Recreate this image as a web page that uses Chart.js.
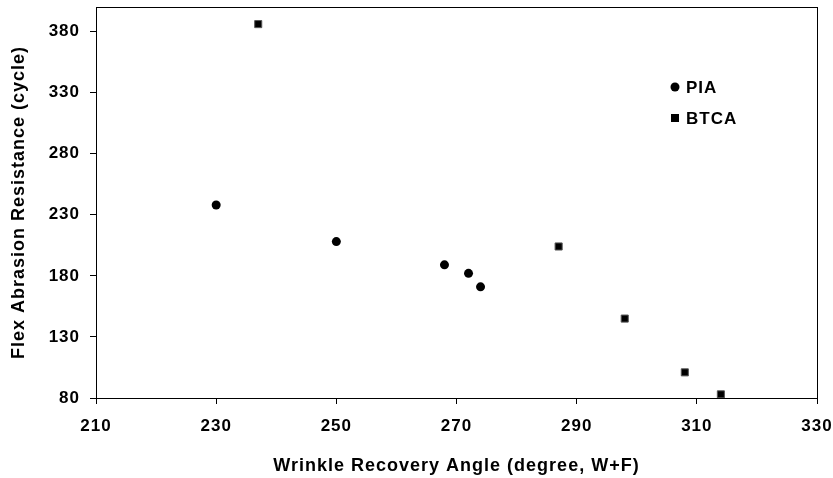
<!DOCTYPE html>
<html>
<head>
<meta charset="utf-8">
<script src="https://cdn.jsdelivr.net/npm/chart.js@4"></script>
<style>
  html, body { margin: 0; padding: 0; background: #fff; }
  #wrap { width: 833px; height: 478px; }
</style>
</head>
<body>
<div id="wrap"><canvas id="chart" width="833" height="478"></canvas></div>
<script>
// values
const piaX = [230, 250, 268, 272, 274];
const piaY = [238, 208, 189, 182, 171];
const btcaX = [237, 287, 298, 308, 314];
const btcaY = [386, 204, 145, 101, 83];
const yTicks = [80, 130, 180, 230, 280, 330, 380];
const xTicks = [210, 230, 250, 270, 290, 310, 330];

const toPoints = (xs, ys) => xs.map((x, i) => ({ x: x, y: ys[i] }));
const FONT = '"Liberation Sans", Arial, sans-serif';

// the reference text is set a bit wide
const spacingPlugin = {
  id: 'spacing',
  beforeInit(chart) { chart.ctx.letterSpacing = '1px'; },
  beforeDraw(chart) { chart.ctx.letterSpacing = '1px'; }
};

// box round the plot area + legend inside it
const framePlugin = {
  id: 'frame',
  afterDraw(chart) {
    const { ctx, chartArea: a } = chart;
    ctx.save();
    ctx.strokeStyle = '#000';
    ctx.lineWidth = 1;
    ctx.strokeRect(a.left + 0.5, a.top + 0.5, a.right - a.left, a.bottom - a.top);

    const lx = a.left + 579, ly = a.top + 80;
    ctx.fillStyle = '#000';
    ctx.beginPath();
    ctx.arc(lx, ly, 4.5, 0, Math.PI * 2);
    ctx.fill();
    ctx.fillRect(lx - 4, ly + 27, 8, 8);
    ctx.font = 'bold 17px ' + FONT;
    ctx.textBaseline = 'middle';
    ctx.textAlign = 'left';
    ctx.fillText('PIA', lx + 11, ly + 1);
    ctx.fillText('BTCA', lx + 11, ly + 32);
    ctx.restore();
  }
};

const tickFont = { family: FONT, size: 17, weight: 'bold' };
const titleFont = { family: FONT, size: 18, weight: 'bold' };

new Chart(document.getElementById('chart').getContext('2d'), {
  type: 'scatter',
  data: {
    datasets: [
      {
        label: 'PIA',
        data: toPoints(piaX, piaY),
        pointStyle: 'circle',
        pointRadius: 4.5,
        backgroundColor: '#000',
        borderColor: '#000',
        borderWidth: 0
      },
      {
        label: 'BTCA',
        data: toPoints(btcaX, btcaY),
        pointStyle: 'rect',
        pointRadius: 5,
        backgroundColor: '#000',
        borderColor: '#555',
        borderWidth: 1
      }
    ]
  },
  options: {
    responsive: false,
    animation: false,
    layout: { padding: { top: 7, right: 16, left: 0, bottom: 0 } },
    plugins: {
      legend: { display: false },
      tooltip: { enabled: false }
    },
    scales: {
      x: {
        type: 'linear',
        min: 210,
        max: 330,
        afterBuildTicks: s => { s.ticks = xTicks.map(v => ({ value: v })); },
        afterFit: s => { s.height = 80; s.paddingLeft = 0; s.paddingRight = 0; },
        grid: { display: true, drawOnChartArea: false, drawTicks: true, tickLength: 6, color: '#000' },
        border: { display: true, color: '#000' },
        ticks: { color: '#000', font: tickFont, padding: 12, maxRotation: 0 },
        title: { display: true, text: 'Wrinkle Recovery Angle (degree, W+F)', color: '#000', font: titleFont, padding: { top: 1, bottom: 1 } }
      },
      y: {
        type: 'linear',
        min: 80,
        max: 400,
        afterBuildTicks: s => { s.ticks = yTicks.map(v => ({ value: v })); },
        afterFit: s => { s.width = 96; s.paddingTop = 0; s.paddingBottom = 0; },
        grid: { display: true, drawOnChartArea: false, drawTicks: true, tickLength: 6, color: '#000' },
        border: { display: true, color: '#000' },
        ticks: { color: '#000', font: tickFont, padding: 10 },
        title: { display: true, text: 'Flex Abrasion Resistance (cycle)', color: '#000', font: titleFont, padding: { top: 8, bottom: 0 } }
      }
    }
  },
  plugins: [spacingPlugin, framePlugin]
});
</script>
</body>
</html>
